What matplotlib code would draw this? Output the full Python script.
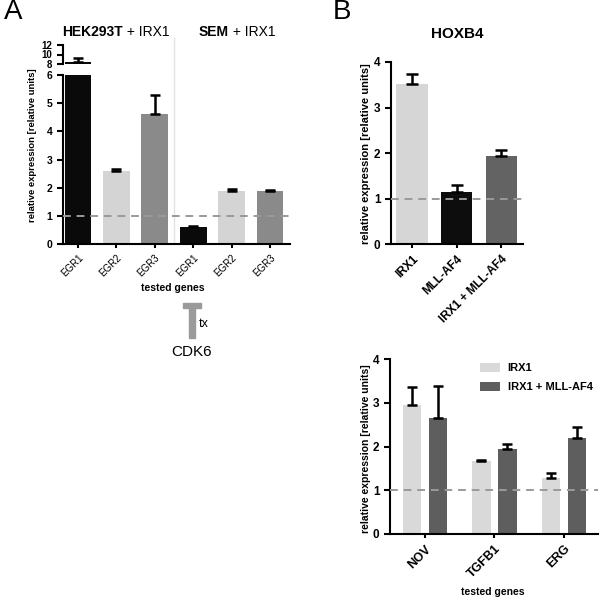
import matplotlib
matplotlib.use("Agg")
import matplotlib.pyplot as plt
import numpy as np
from matplotlib.lines import Line2D
from matplotlib.patches import Rectangle
import matplotlib.transforms as mtransforms

plt.rcParams['font.family'] = ['Liberation Sans', 'DejaVu Sans']

# ---------------- data ----------------
a_genes = ["EGR1", "EGR2", "EGR3", "EGR1", "EGR2", "EGR3"]
a_values = [8.4, 2.59, 4.61, 0.59, 1.88, 1.87]
a_errors = [0.9, 0.09, 0.67, 0.05, 0.09, 0.03]
a_colors = ["#0a0a0a", "#d4d4d4", "#8a8a8a", "#0a0a0a", "#d4d4d4", "#8a8a8a"]
a_group_titles = ["HEK293T", "SEM"]

b_top_labels = ["IRX1", "MLL-AF4", "IRX1 + MLL-AF4"]
b_top_values = [3.51, 1.15, 1.93]
b_top_errors = [0.22, 0.14, 0.13]
b_top_colors = ["#d6d6d6", "#0d0d0d", "#636363"]

b_genes = ["NOV", "TGFB1", "ERG"]
b_irx1 = [2.96, 1.66, 1.29]
b_irx1_err = [0.40, 0.04, 0.10]
b_combo = [2.66, 1.94, 2.19]
b_combo_err = [0.72, 0.11, 0.26]
b_series = ["IRX1", "IRX1 + MLL-AF4"]
b_series_colors = ["#d9d9d9", "#5e5e5e"]

W = H = 600.0


def fx(px):
    return px / W


def fy(py):
    return 1 - py / H


fig = plt.figure(figsize=(6, 6), dpi=100)


def style_ax(ax, lw=1.5):
    for s in ["top", "right"]:
        ax.spines[s].set_visible(False)
    for s in ["left", "bottom"]:
        ax.spines[s].set_linewidth(lw)
    ax.tick_params(axis="y", direction="out", length=4, width=lw)
    ax.tick_params(axis="x", direction="out", length=3, width=lw)


def err_up(ax, x, y, e, capsize=4, lw=1.8):
    return ax.errorbar(x, y, yerr=[np.zeros(len(e)), e], fmt="none",
                       ecolor="black", elinewidth=lw, capsize=capsize,
                       capthick=lw, zorder=2.5)


# ---------------- Panel A ----------------
xa = np.arange(len(a_genes))
a_left, a_right = 63, 290
a_xlim = (-0.39, 5.52)

axA = fig.add_axes([fx(a_left), fy(244), fx(a_right - a_left), fy(75) - fy(244)])
axA_up = fig.add_axes([fx(a_left), fy(64), fx(a_right - a_left), fy(45) - fy(64)])

for ax in (axA, axA_up):
    ax.bar(xa, a_values, width=0.70, color=a_colors, zorder=2)
    err_up(ax, xa, a_values, a_errors, capsize=3.5, lw=1.8)
    ax.set_xlim(*a_xlim)
    ax.patch.set_visible(False)
    style_ax(ax)

axA.set_ylim(0, 6)
axA.set_yticks(range(0, 7))
axA.set_yticklabels([str(v) for v in range(0, 7)], fontsize=7.5, fontweight="bold")
axA.set_xticks(xa)
axA.set_xticklabels(a_genes, rotation=45, ha="right", rotation_mode="anchor",
                    fontsize=7)
axA.axhline(1, color="#9a9a9a", lw=1.4, ls=(0, (4, 3)), zorder=3)

axA_up.set_ylim(8, 12)
axA_up.set_yticks([8, 10, 12])
axA_up.set_yticklabels(["8", "10", "12"], fontsize=7, fontweight="bold")
axA_up.spines["bottom"].set_visible(False)
axA_up.set_xticks([])

# separator between cell lines
trans = mtransforms.blended_transform_factory(axA.transData, fig.transFigure)
fig.add_artist(Line2D([2.5, 2.5], [fy(243), fy(38)], transform=trans,
                      color="#e4e4e4", lw=1.0, zorder=-1))

# group titles
tA1 = fig.text(fx(62), fy(36), "HEK293T", fontsize=10, fontweight="bold",
               ha="left", va="baseline")
axA.annotate(" + IRX1", xy=(1, 0), xycoords=tA1, fontsize=10, va="bottom",
             ha="left", annotation_clip=False)
tA2 = fig.text(fx(199), fy(36), "SEM", fontsize=10, fontweight="bold",
               ha="left", va="baseline")
axA.annotate(" + IRX1", xy=(1, 0), xycoords=tA2, fontsize=10, va="bottom",
             ha="left", annotation_clip=False)

fig.text(fx(33), fy(145), "relative expression [relative units]", rotation=90,
         fontsize=6.8, fontweight="bold", ha="center", va="center")
fig.text(fx(173), fy(288), "tested genes", fontsize=7.5, fontweight="bold",
         ha="center", va="center")

# CDK6 inhibition symbol
fig.add_artist(Rectangle((fx(183), fy(308)), fx(18), fy(303) - fy(308),
                         color="#9a9a9a", transform=fig.transFigure))
fig.add_artist(Rectangle((fx(189), fy(338)), fx(6), fy(307) - fy(338),
                         color="#9a9a9a", transform=fig.transFigure))
fig.text(fx(199), fy(324), "tx", fontsize=9, ha="left", va="center")
fig.text(fx(192), fy(352), "CDK6", fontsize=11, ha="center", va="center")

fig.text(fx(4), fy(12), "A", fontsize=20, ha="left", va="center")
fig.text(fx(333), fy(12), "B", fontsize=20, ha="left", va="center")

# ---------------- Panel B top ----------------
xb = np.arange(len(b_top_labels))
axB = fig.add_axes([fx(391), fy(244), fx(523 - 391), fy(62) - fy(244)])
axB.bar(xb, b_top_values, width=0.70, color=b_top_colors, zorder=2)
err_up(axB, xb, b_top_values, b_top_errors, capsize=4, lw=1.8)
axB.set_xlim(-0.47, 2.49)
axB.set_ylim(0, 4)
axB.set_yticks(range(0, 5))
axB.set_yticklabels([str(v) for v in range(0, 5)], fontsize=8.5, fontweight="bold")
axB.set_xticks(xb)
axB.set_xticklabels(b_top_labels, rotation=45, ha="right",
                    rotation_mode="anchor", fontsize=8.5, fontweight="bold")
axB.axhline(1, color="#9a9a9a", lw=1.4, ls=(0, (4, 3)), zorder=3)
style_ax(axB)
fig.text(fx(457), fy(34), "HOXB4", fontsize=11, fontweight="bold",
         ha="center", va="center")
fig.text(fx(366), fy(154), "relative expression [relative units]", rotation=90,
         fontsize=8, fontweight="bold", ha="center", va="center")

# ---------------- Panel B bottom ----------------
xg = np.arange(len(b_genes))
off = 0.187
bw = 0.26
axC = fig.add_axes([fx(390), fy(534), fx(598 - 390), fy(359) - fy(534)])
axC.bar(xg - off, b_irx1, width=bw, color=b_series_colors[0], zorder=2,
        label=b_series[0])
axC.bar(xg + off, b_combo, width=bw, color=b_series_colors[1], zorder=2,
        label=b_series[1])
err_up(axC, xg - off, b_irx1, b_irx1_err, capsize=3.5, lw=1.8)
err_up(axC, xg + off, b_combo, b_combo_err, capsize=3.5, lw=1.8)
axC.set_xlim(-0.504, 2.49)
axC.set_ylim(0, 4)
axC.set_yticks(range(0, 5))
axC.set_yticklabels([str(v) for v in range(0, 5)], fontsize=8.5, fontweight="bold")
axC.set_xticks(xg)
axC.set_xticklabels(b_genes, rotation=45, ha="right", rotation_mode="anchor",
                    fontsize=9, fontweight="bold")
axC.axhline(1, color="#9a9a9a", lw=1.4, ls=(0, (4, 3)), zorder=3)
style_ax(axC)
axC.legend(loc="upper left", bbox_to_anchor=(fx(472), fy(355)),
           bbox_transform=fig.transFigure, frameon=False,
           prop={"size": 8, "weight": "bold"}, handlelength=1.8,
           handleheight=0.9, handletextpad=0.7, labelspacing=0.75,
           borderpad=0.2)
fig.text(fx(366), fy(449), "relative expression [relative units]", rotation=90,
         fontsize=7.5, fontweight="bold", ha="center", va="center")
fig.text(fx(493), fy(592), "tested genes", fontsize=7.5, fontweight="bold",
         ha="center", va="center")

fig.savefig("out.png", dpi=100)
